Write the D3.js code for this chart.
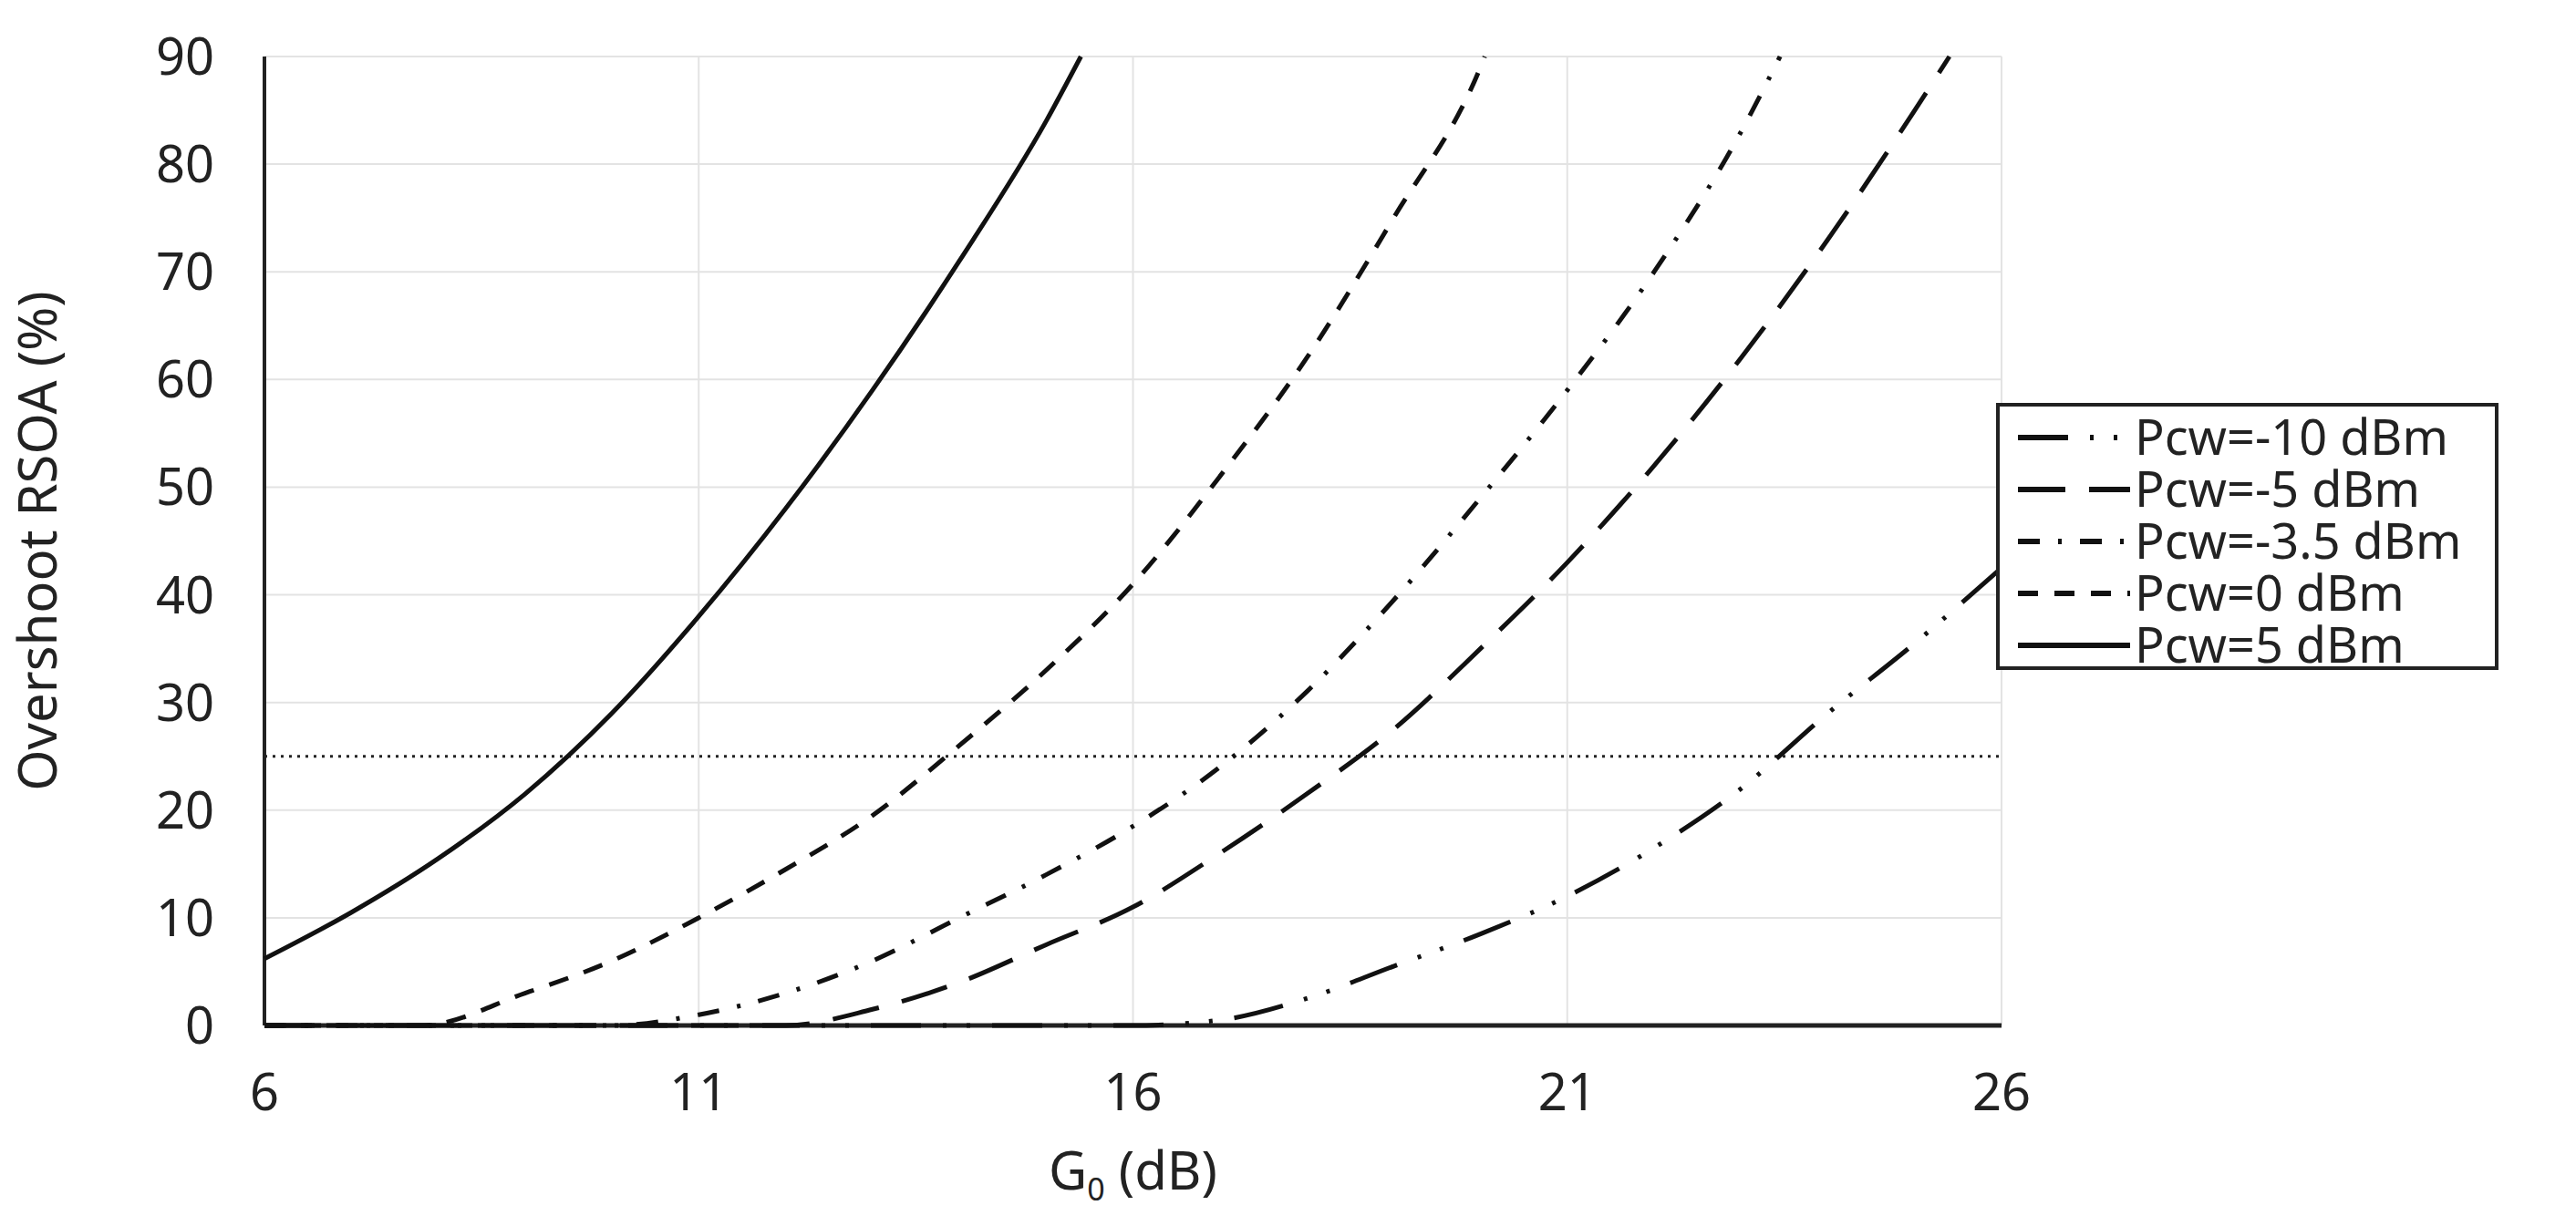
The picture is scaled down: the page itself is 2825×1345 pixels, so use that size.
<!DOCTYPE html>
<html><head><meta charset="utf-8">
<script src="https://cdn.jsdelivr.net/npm/d3@7"></script>
<style>body{margin:0;background:#fff}text{font-family:"Liberation Sans Narrow","Noto Sans",sans-serif;fill:#222}</style>
</head><body><svg id="c" width="2825" height="1345"></svg>
<script>
var seriesNames = ["Pcw=-10 dBm", "Pcw=-5 dBm", "Pcw=-3.5 dBm", "Pcw=0 dBm", "Pcw=5 dBm"];
var pm10 = [[6,0],[16,0],[17,0.5],[18,2.5],[19,5.5],[20,8.5],[21,12],[22,16.5],[23,22],[24,29],[25,35.5],[26,42.5]];
var pm5 = [[6,0],[12,0],[13,1.5],[14,4],[15,7.5],[16,11],[17,16],[18,21.5],[19,27.5],[20,35],[21,43],[22,52],[23,62],[24,73],[25,85],[25.4,90]];
var pm35 = [[6,0],[10,0],[11,1],[12,3],[13,6],[14,10],[15,14],[16,18.5],[17,24],[18,31],[19,39.5],[20,49],[21,59],[22,70],[23,83],[23.45,90]];
var p0 = [[6,0],[7.8,0],[9,3],[10,6],[11,10],[12,14.5],[13,19.5],[14,26],[15,33],[16,41],[17,51],[18,62],[19,75],[20,89],[20.05,90]];
var p5 = [[6,6.2],[7,10.5],[8,15.5],[9,21.5],[10,29],[11,38],[12,48],[13,59],[14,71],[15,84],[15.4,90]];
var threshold = 25;
var xTicks = [6, 11, 16, 21, 26];
var yTicks = [0, 10, 20, 30, 40, 50, 60, 70, 80, 90];
var dashes = ["55 24 4 22 4 24", "52 26", "24 20 4 20", "22 18", null];

var svg = d3.select("#c");
var m = {l: 290, t: 62, r: 2195, b: 1125};
var x = d3.scaleLinear().domain([6, 26]).range([m.l, m.r]);
var y = d3.scaleLinear().domain([0, 90]).range([m.b, m.t]);

// grid
svg.append("g").selectAll("line").data(yTicks.slice(1)).enter().append("line")
  .attr("x1", m.l).attr("x2", m.r).attr("y1", y).attr("y2", y).attr("stroke", "#e3e3e3").attr("stroke-width", 2);
svg.append("g").selectAll("line").data(xTicks.slice(1)).enter().append("line")
  .attr("y1", m.t).attr("y2", m.b).attr("x1", x).attr("x2", x).attr("stroke", "#e3e3e3").attr("stroke-width", 2);

// axes
svg.append("line").attr("x1", m.l).attr("x2", m.l).attr("y1", m.t).attr("y2", m.b).attr("stroke", "#222").attr("stroke-width", 4);
svg.append("line").attr("x1", m.l).attr("x2", m.r).attr("y1", m.b).attr("y2", m.b).attr("stroke", "#222").attr("stroke-width", 5);
svg.append("g").selectAll("text").data(yTicks).enter().append("text")
  .attr("x", m.l - 55).attr("y", function(d){return y(d) + 20;}).attr("text-anchor", "end")
  .attr("font-size", 56).text(function(d){return d;});
svg.append("g").selectAll("text").data(xTicks).enter().append("text")
  .attr("x", x).attr("y", 1218).attr("text-anchor", "middle")
  .attr("font-size", 56).text(function(d){return d;});

var xt = svg.append("text").attr("x", (m.l + m.r) / 2).attr("y", 1305).attr("text-anchor", "middle").attr("font-size", 58);
xt.append("tspan").text("G");
xt.append("tspan").attr("font-size", 34).attr("dy", 12).text("0");
xt.append("tspan").attr("dy", -12).text(" (dB)");
svg.append("text").attr("transform", "translate(62," + (m.t + m.b) / 2 + ") rotate(-90)")
  .attr("text-anchor", "middle").attr("font-size", 58).text("Overshoot RSOA (%)");

// threshold
svg.append("line").attr("x1", m.l).attr("x2", m.r).attr("y1", y(threshold)).attr("y2", y(threshold))
  .attr("stroke", "#222").attr("stroke-width", 3).attr("stroke-dasharray", "3 6");

// curves
var line = d3.line().x(function(d){return x(d[0]);}).y(function(d){return y(d[1]);}).curve(d3.curveMonotoneX);
var series = [pm10, pm5, pm35, p0, p5];
series.forEach(function(s, i) {
  svg.append("path").attr("d", line(s)).attr("fill", "none").attr("stroke", "#111")
    .attr("stroke-width", 5).attr("stroke-dasharray", dashes[i]);
});

// legend
var lg = svg.append("g").attr("transform", "translate(2191,444)");
lg.append("rect").attr("width", 547).attr("height", 289).attr("fill", "#fff").attr("stroke", "#222").attr("stroke-width", 4);
seriesNames.forEach(function(n, i) {
  var yy = 36 + i * 57;
  lg.append("line").attr("x1", 22).attr("x2", 145).attr("y1", yy).attr("y2", yy)
    .attr("stroke", "#111").attr("stroke-width", 6).attr("stroke-dasharray", dashes[i]);
  lg.append("text").attr("x", 150).attr("y", yy + 19).attr("font-size", 54).text(n);
});
</script></body></html>
